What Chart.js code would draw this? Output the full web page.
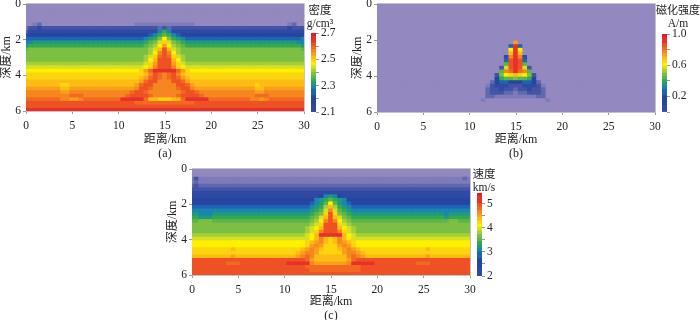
<!DOCTYPE html>
<html>
<head>
<meta charset="utf-8">
<script src="https://cdn.jsdelivr.net/npm/chart.js@4"></script>
<style>
    html, body { margin: 0; background: #fff; width: 700px; height: 320px; overflow: hidden; }
    canvas { position: absolute; filter: blur(0.35px); }
    .unit { position: absolute; width: 60px; text-align: center; font: 11.5px/12.5px "Liberation Serif", "Noto Sans CJK SC", serif; color: #222; filter: blur(0.25px); }
</style>
</head>
<body>
<div class="unit" style="left:290px;top:4px">密度<br>g/cm³</div>
<div class="unit" style="left:648px;top:4px;font-size:11px">磁化强度<br><span style="font-size:11.5px">A/m</span></div>
<div class="unit" style="left:454px;top:168px">速度<br>km/s</div>
<script>
// colour levels, low to high: one character per cell in the rows below
const levelChars = '0123456789abcdefghijklm';
const levelColors = [
    '#9488c0', '#7f7bb9', '#6068af', '#4354a6', '#3049a2', '#2446a1', '#1f63b1', '#1b85b0',
    '#1d9a80', '#34a853', '#5cb548', '#7cbf42', '#a5cf3a', '#d6df26', '#fff000', '#fdd50f',
    '#fcbc14', '#f9a01b', '#f6861f', '#f26a22', '#ee5224', '#e8302a', '#e01a2d'
];

const colorbarLevels = '445556678 9abcdefghijkllm';

const xTicks = [0, 5, 10, 15, 20, 25, 30];
const depthTicks = [0, 2, 4, 6];

const densityTicks = [2.1, 2.2, 2.3, 2.4, 2.5, 2.6, 2.7];
const densityLabels = ['2.1', '2.3', '2.5', '2.7'];
const magnetTicks = [0, 0.2, 0.4, 0.6, 0.8, 1];
const magnetLabels = ['0.2', '0.6', '1.0'];
const velocityTicks = [2, 2.5, 3, 3.5, 4, 4.5, 5];
const velocityLabels = ['2', '3', '4', '5'];

const blank = '0000000000 0000000000 0000000000 0 0000000000 0000000000 0000000000';

// rows go down in 0.2 km steps, columns across in 0.5 km steps
const densityRows = [
    blank, blank, blank, blank, blank,
    '0012000000 0000000000 0000111111 1 1111110000 0000000000 0000001200',
    '1334333333 3333333333 3333333332 3 2333333333 3333333333 3333334333',
    '2444444444 4444444444 4444444447 9 7444444444 4444444444 4444444444',
    '4555555555 5555555555 5555555679 a 9765555555 5555555555 5555555555',
    '6666666666 6666666666 666666789b e b987666666 6666666666 6666666667',
    '7788888888 8888888888 8888889abd f dba9888888 8888888888 8888888877',
    '8999999999 9999999999 999999abce h ecba999999 9999999999 9999999998',
    'abbbbbbbbb bbbbbbbbbb bbbbbbbcdg k gdcbbbbbbb bbbbbbbbbb bbbbbbbbba',
    'bbbbbbbbbb bbbbbbbbbb bbbbbbbcei k iecbbbbbbb bbbbbbbbbb bbbbbbbbbb',
    'bbbbbbbbbb bbbbbbbbbb bbbbbbcdfj k jfdcbbbbbb bbbbbbbbbb bbbbbbbbbb',
    'bbbbbbbbbb bbbbbbbbbb bbbbbbcegk k kgecbbbbbb bbbbbbbbbb bbbbbbbbbb',
    'cccccccccc cccccccccc ccccccdfhk k khfdcccccc cccccccccc cccccccccc',
    'dddddddddd dddddddddd ddddddefik k kifedddddd dddddddddd dddddddddd',
    'eeeeeeeeee eeeeeeeeee eeeeefhjll l lljhfeeeee eeeeeeeeee eeeeeeeeee',
    'ffffffffff ffffffffff ffffffgikj i jkigffffff ffffffffff ffffffffff',
    'ffffffffff ffffffffff fffffghjkj i jkjhgfffff ffffffffff ffffffffff',
    'gggggggggg gggggggggg ggggghjkki i ikkjhggggg gggggggggg gggggggggg',
    'ggggggggff gggggggggg gggghjkkii i iikkjhgggg gggggggggf gggggggggg',
    'hhhhhhhhgg hhhhhhhhhh hhhhikkjii i iijkkihhhh hhhhhhhhhg ghhhhhhhhh',
    'iiiiiiiihh iiiiiiiiii iiijkkjiii i iiijkkjiii iiiiiiiiih hiiiiiiiii',
    'iiiiiiiiii jjjiiiiiii iijkkkkjii i iijkkkkjii iiiiiiiiij jjiiiiiiii',
    'jjjjjjjjii hhijjjjjjj jllllljggf f fggjlllllj jjjjjjjjii hijjjjjjjj',
    'kkkkkkkkkk kkkkkkkkkk kkkkjjjjjj j jjjjjjkkkk kkkkkkkkkk kkkkkkkkkk',
    'kkkkkkkkkk kkkkkkkkkk kkkkkkkkkk k kkkkkkkkkk kkkkkkkkkk kkkkkkkkkk',
    'llllllllll llllllllll llllllllll l llllllllll llllllllll llllllllll'
];

const magnetRows = [
    blank, blank, blank, blank, blank, blank, blank, blank, blank, blank,
    '0000000000 0000000000 0000000000 h 0000000000 0000000000 0000000000',
    '0000000000 0000000000 0000000006 l 6000000000 0000000000 0000000000',
    '0000000000 0000000000 000000000e l e000000000 0000000000 0000000000',
    '0000000000 0000000000 000000000g l g000000000 0000000000 0000000000',
    '0000000000 0000000000 000000004i l i400000000 0000000000 0000000000',
    '0000000000 0000000000 000000006k l k600000000 0000000000 0000000000',
    '0000000000 0000000000 00000000ak l ka00000000 0000000000 0000000000',
    '0000000000 0000000000 00000003dk l kd30000000 0000000000 0000000000',
    '0000000000 0000000000 0000000aij l jia0000000 0000000000 0000000000',
    '0000000000 0000000000 0000003bef g feb3000000 0000000000 0000000000',
    '0000000000 0000000000 00000059aa b aa95000000 0000000000 0000000000',
    '0000000000 0000000000 0000025665 5 5665200000 0000000000 0000000000',
    '0000000000 0000000000 0000134443 3 3444310000 0000000000 0000000000',
    '0000000000 0000000000 0000233433 2 3343320000 0000000000 0000000000',
    '0000000000 0000000000 0000233322 1 2233320000 0000000000 0000000000',
    '0000000000 0000000000 0000221111 1 1111220000 0000000000 0000000000',
    '0000000000 0000000000 0001000000 0 0000001000 0000000000 0000000000',
    blank, blank, blank
];

const velocityRows = [
    blank, blank,
    '1311111111 1111111111 1111111111 1 1111111111 1111111111 1111111121',
    '1211111111 1111111111 1111111111 1 1111111111 1111111111 1111111111',
    '2322222222 2222222222 2222222222 2 2222222222 2222222222 2222222222',
    '3333333333 3333333333 3333333333 3 3333333333 3333333333 3333333333',
    '4444444444 4444444444 4444444444 4 4444444444 4444444444 4444444444',
    '4444444444 4444444444 4444444457 8 7544444444 4444444444 4444444444',
    '5555555555 5555555555 5555555789 a 9875555555 5555555555 5555555555',
    '5555555555 5555555555 555555678a e a876555555 5555555555 5555555555',
    '6666666666 6666666666 666666789c g c987666666 6666666666 6666666666',
    '7777777777 7777777777 77777789ad i da98777777 7777777777 7777777777',
    '8877788888 8888888888 8888889abf k fba9888888 8888888888 8888788888',
    '9988899999 9999999999 999999abdg k gdba999999 9999999999 9999899999',
    'aabbbaaaaa aaaaaaaaaa aaaaaabcei k iecbaaaaaa aaaaaaaaaa aaaaabbaaa',
    'bbbbbbbbbb bbbbbbbbbb bbbbbbcdfk k kfdcbbbbbb bbbbbbbbbb bbbbbbbbbb',
    'bbbbbbbbbb bbbbbbbbbb bbbbbcdegk k kgedcbbbbb bbbbbbbbbb bbbbbbbbbb',
    'bbbbbbbbbb bbbbbbbbbb bbbbbcdfik k kifdcbbbbb bbbbbbbbbb bbbbbbbbbb',
    'cccccccccc cccccccccc cccccdegll l llgedccccc cccccccccc cccccccccc',
    'dddddddddd dddddddddd ddddddegig f gigedddddd dddddddddd dddddddddd',
    'eeeeeeeeee eeeeeeeeee eeeeefghig f gihgfeeeee eeeeeeeeee eeeeeeeeee',
    'eeeeeeeeee eeeeeeeeee eeeeefhihf f fhihfeeeee eeeeeeeeee eeeeeeeeee',
    'fffffffffg ffffffffff ffffghihgf f fghihgffff ffffffffff gfffffffff',
    'ffffffffff ffffffffff fffghiihff f ffhiihgfff ffffffffff ffffffffff',
    'gggggggggh gggggggggg ggghijiggg g gggijihggg gggggggggg hggggggggg',
    'kkkkkkkkkk kkkkkkkkkk kkkkkjhggg g ggghjkkkkk kkkkkkkkkk kkkkkkkkkk',
    'kkkkkkkkjj jkkkkkkkkk klllllihhh h hhhilllllk kkkkkkkkjj jkkkkkkkkk',
    'kkkkkkkkkk kkkkkkkkkk kkkkkjjjjj j jjjjjjkkkk kkkkkkkkkk kkkkkkkkkk',
    'kkkkkkkkkk kkkkkkkkkk kkkkkkjjjj j jjjjjjkkkk kkkkkkkkkk kkkkkkkkkk',
    'kkkkkkkkkk kkkkkkkkkk kkkkkkkkkk k kkkkkkkkkk kkkkkkkkkk kkkkkkkkkk'
];

const fontFamily = '"Liberation Serif", "Noto Sans CJK SC", serif';
const frameColor = '#c4c4c4';
const tickColor = '#9a9a9a';
const textColor = '#222';
const cellWidth = 0.5;
const cellHeight = 0.2;

const addCanvas = (left, top, width, height) => {
    const canvas = document.createElement('canvas');
    canvas.width = width;
    canvas.height = height;
    canvas.style.cssText = `left:${left}px;top:${top}px;width:${width}px;height:${height}px`;
    document.body.appendChild(canvas);
    return canvas;
};

// the top and right edges of the frame
const framePlugin = {
    id: 'frame',
    afterDraw: ({ ctx, chartArea }) => {
        ctx.save();
        ctx.strokeStyle = frameColor;
        ctx.lineWidth = 1;
        ctx.beginPath();
        ctx.moveTo(chartArea.left, chartArea.top - 0.5);
        ctx.lineTo(chartArea.right + 0.5, chartArea.top - 0.5);
        ctx.lineTo(chartArea.right + 0.5, chartArea.bottom);
        ctx.stroke();
        ctx.restore();
    }
};

const renderPanel = ({ rows, caption, left, top, plotHeight, xAxisHeight }) => {
    const canvas = addCanvas(left, top - 10, 26 + 278 + 12, 10 + plotHeight + xAxisHeight);

    const datasets = rows.map((row, rowIndex) => {
        const levels = row.replace(/ /g, '').split('').map(c => levelChars.indexOf(c));
        return {
            data: levels.map((level, col) => ({
                x: col * cellWidth,
                y: [rowIndex * cellHeight, (rowIndex + 1) * cellHeight]
            })),
            backgroundColor: levels.map(level => levelColors[level]),
            inflateAmount: 0.6,
            borderWidth: 0,
            barPercentage: 1,
            categoryPercentage: 1,
            grouped: false
        };
    });

    new Chart(canvas, {
        type: 'bar',
        data: { datasets },
        plugins: [framePlugin],
        options: {
            responsive: false,
            animation: false,
            layout: { padding: { top: 10, right: 12 } },
            plugins: { legend: { display: false }, tooltip: { enabled: false } },
            scales: {
                x: {
                    type: 'linear',
                    offset: false,
                    min: xTicks[0],
                    max: xTicks[xTicks.length - 1],
                    afterFit: scale => { scale.height = xAxisHeight; },
                    afterBuildTicks: scale => { scale.ticks = xTicks.map(value => ({ value })); },
                    grid: { offset: false, drawOnChartArea: false, tickLength: 3, color: tickColor },
                    border: { color: frameColor },
                    ticks: { maxRotation: 0, autoSkip: false, padding: 5, color: textColor, font: { family: fontFamily, size: 11.5 } },
                    title: { display: true, text: ['距离/km', caption], padding: 0, color: textColor, font: { family: fontFamily, size: 12, lineHeight: 1.1 } }
                },
                y: {
                    reverse: true,
                    min: depthTicks[0],
                    max: depthTicks[depthTicks.length - 1],
                    afterFit: scale => { scale.width = 26; },
                    afterBuildTicks: scale => { scale.ticks = depthTicks.map(value => ({ value })); },
                    grid: { drawOnChartArea: false, tickLength: 3, color: tickColor },
                    border: { color: frameColor },
                    ticks: { padding: 2, color: textColor, font: { family: fontFamily, size: 11.5 } },
                    title: { display: true, text: '深度/km', padding: 0, color: textColor, font: { family: fontFamily, size: 12 } }
                }
            }
        }
    });
};

const renderColorbar = ({ ticks, labels, min, max, left, top, plotHeight, axisWidth }) => {
    const canvas = addCanvas(left, top - 10, 5 + axisWidth, plotHeight + 20);
    const chars = colorbarLevels.replace(/ /g, '').split('');
    const slice = (max - min) / chars.length;

    new Chart(canvas, {
        type: 'bar',
        data: {
            labels: [''],
            datasets: chars.map((c, i) => ({
                data: [[min + i * slice, min + (i + 1) * slice]],
                backgroundColor: levelColors[levelChars.indexOf(c)],
                inflateAmount: 0.4,
                borderWidth: 0,
                barPercentage: 1,
                categoryPercentage: 1,
                grouped: false
            }))
        },
        options: {
            responsive: false,
            animation: false,
            layout: { padding: { top: 10, bottom: 10 } },
            plugins: { legend: { display: false }, tooltip: { enabled: false } },
            scales: {
                x: { display: false },
                y: {
                    position: 'right',
                    min,
                    max,
                    afterFit: scale => { scale.width = axisWidth; },
                    afterBuildTicks: scale => { scale.ticks = ticks.map(value => ({ value })); },
                    grid: { drawOnChartArea: false, tickLength: 3, color: tickColor },
                    border: { display: false },
                    ticks: {
                        autoSkip: false,
                        padding: 2,
                        color: textColor,
                        font: { family: fontFamily, size: 11.5 },
                        callback: value => {
                            const text = labels.find(label => Math.abs(Number(label) - value) < 1e-6);
                            return text === undefined ? '' : text;
                        }
                    }
                }
            }
        }
    });
};

renderPanel({ rows: densityRows, caption: '(a)', left: 0, top: 4, plotHeight: 107, xAxisHeight: 49 });
renderPanel({ rows: magnetRows, caption: '(b)', left: 351, top: 4, plotHeight: 108, xAxisHeight: 48 });
renderPanel({ rows: velocityRows, caption: '(c)', left: 166, top: 169, plotHeight: 106, xAxisHeight: 47 });

renderColorbar({ ticks: densityTicks, labels: densityLabels, min: 2.1, max: 2.7, left: 311, top: 33, plotHeight: 79, axisWidth: 30 });
renderColorbar({ ticks: magnetTicks, labels: magnetLabels, min: 0, max: 1, left: 662, top: 34, plotHeight: 78, axisWidth: 32 });
renderColorbar({ ticks: velocityTicks, labels: velocityLabels, min: 2, max: 5.45, left: 477, top: 193, plotHeight: 83, axisWidth: 22 });
</script>
</body>
</html>
